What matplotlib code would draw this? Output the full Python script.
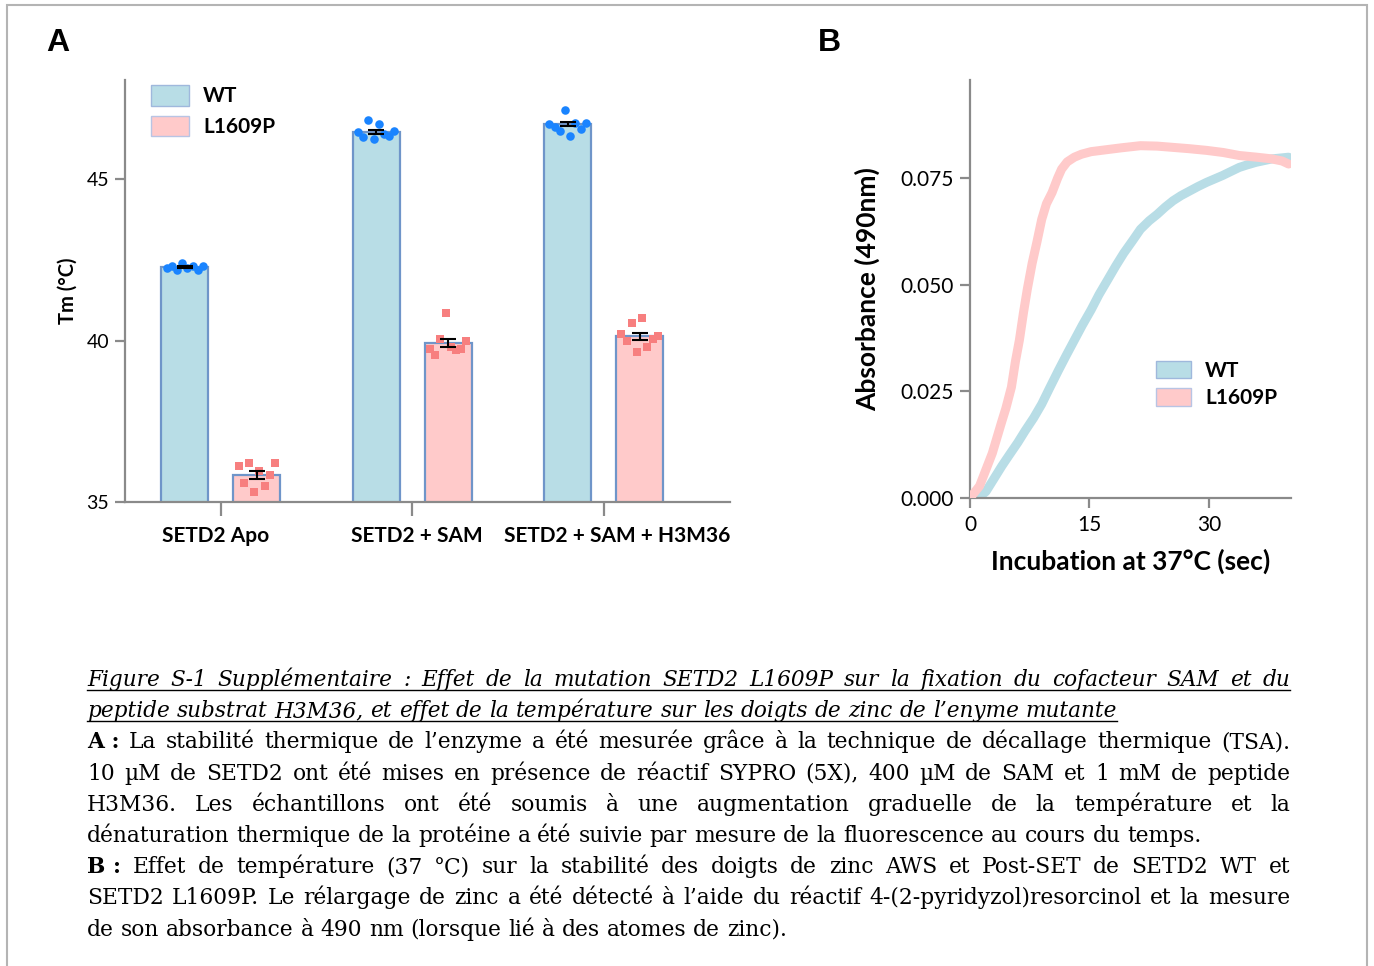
import numpy as np
import matplotlib
matplotlib.use("Agg")
import matplotlib.pyplot as plt
from matplotlib.patches import Patch, Rectangle
from matplotlib.lines import Line2D
from matplotlib.transforms import ScaledTranslation, blended_transform_factory

# ---------------- panel A : thermal shift (Tm) ----------------
groups = ["SETD2 Apo", "SETD2 + SAM", "SETD2 + SAM + H3M36"]
wt_mean = [42.27, 46.47, 46.70]
wt_sem = [0.03, 0.06, 0.07]
mut_mean = [35.83, 39.93, 40.13]
mut_sem = [0.12, 0.13, 0.11]
wt_points = [
    [42.25, 42.30, 42.20, 42.40, 42.25, 42.30, 42.20, 42.30],
    [46.45, 46.30, 46.82, 46.25, 46.72, 46.40, 46.35, 46.50],
    [46.70, 46.60, 46.50, 47.13, 46.35, 46.75, 46.55, 46.75],
]
mut_points = [
    [36.10, 35.60, 36.20, 35.30, 35.95, 35.50, 35.85, 36.20],
    [39.75, 39.55, 40.05, 40.85, 39.80, 39.70, 39.75, 40.00],
    [40.20, 40.00, 40.55, 39.65, 40.70, 39.80, 40.05, 40.15],
]

# ---------------- panel B : zinc release ----------------
mut_t = [0, 1.2, 2.8, 4.0, 4.5, 5.2, 5.7, 6.2, 6.7, 7.2, 7.8, 8.4, 9.0, 9.6,
         10.3, 11.0, 11.5, 12.2, 13.1, 14.0, 15.2, 17.3, 19.0, 21.4, 23.5,
         25.5, 27.5, 29.7, 31.8, 33.8, 36.0, 37.9, 39.2, 40.0]
mut_abs = [0.0, 0.0028, 0.0105, 0.018, 0.021, 0.026, 0.0320, 0.037, 0.0433,
           0.049, 0.055, 0.060, 0.0653, 0.069, 0.0716, 0.0750, 0.0771, 0.0788,
           0.0799, 0.0806, 0.0812, 0.0817, 0.0821, 0.0826, 0.0825, 0.0822,
           0.0819, 0.0815, 0.0810, 0.0803, 0.0799, 0.0795, 0.0790, 0.0783]
wt_t = [1.0, 2.0, 2.8, 4.0, 4.9, 6.0, 6.9, 8.0, 9.0, 10.0, 11.1, 12.1, 13.1,
        14.1, 15.2, 16.2, 17.3, 18.3, 19.3, 20.4, 21.4, 22.5, 23.5, 24.5,
        25.5, 26.5, 27.6, 28.6, 29.7, 30.7, 31.7, 32.8, 33.8, 34.8, 35.9,
        37.9, 40.0]
wt_abs = [0.0, 0.0015, 0.0039, 0.0075, 0.0100, 0.0130, 0.0157, 0.0188, 0.0220,
          0.0258, 0.0299, 0.0335, 0.0370, 0.0405, 0.0441, 0.0477, 0.0512,
          0.0544, 0.0574, 0.0603, 0.0630, 0.0650, 0.0665, 0.0682, 0.0697,
          0.0709, 0.0720, 0.0730, 0.0740, 0.0748, 0.0756, 0.0766, 0.0775,
          0.0781, 0.0787, 0.0795, 0.0799]

# ---------------- caption ----------------
caption = [
    ("Figure S-1 Supplémentaire : Effet de la mutation SETD2 L1609P sur la fixation du cofacteur SAM et du", "it", True),
    ("peptide substrat H3M36, et effet de la température sur les doigts de zinc de l’enyme mutante", "it", False),
    ("A : La stabilité thermique de l’enzyme a été mesurée grâce à la technique de décallage thermique (TSA).", "rm", True),
    ("10 µM de SETD2 ont été mises en présence de réactif SYPRO (5X), 400 µM de SAM et 1 mM de peptide", "rm", True),
    ("H3M36. Les échantillons ont été soumis à une augmentation graduelle de la température et la", "rm", True),
    ("dénaturation thermique de la protéine a été suivie par mesure de la fluorescence au cours du temps.", "rm", False),
    ("B : Effet de température (37 °C) sur la stabilité des doigts de zinc AWS et Post-SET de SETD2 WT et", "rm", True),
    ("SETD2 L1609P. Le rélargage de zinc a été détecté à l’aide du réactif 4-(2-pyridyzol)resorcinol et la mesure", "rm", True),
    ("de son absorbance à 490 nm (lorsque lié à des atomes de zinc).", "rm", False),
]

WT_FILL = "#b8dde6"
MUT_FILL = "#ffcaca"
EDGE = "#6f95c9"
DOT = "#1a84ff"
SQ = "#f77f7f"
AXC = "#8a8a8a"

plt.rcParams["font.family"] = ["Lato", "DejaVu Sans"]

W, H = 1374, 966
fig = plt.figure(figsize=(W / 100, H / 100), dpi=100)


def fx(x):
    return x / W


def fy(y):
    return 1 - y / H


# outer frame
fig.add_artist(Rectangle((fx(7), fy(975)), fx(1367) - fx(7), fy(5) - fy(975),
                         transform=fig.transFigure, fill=False,
                         edgecolor="#b4b4b4", lw=1.5))

# ---------- panel A ----------
axA = fig.add_axes([fx(125), fy(502), fx(730) - fx(125), fy(80) - fy(502)])
x = np.arange(len(groups))
off, bw = 0.188, 0.245
axA.bar(x - off, wt_mean, bw, color=WT_FILL, edgecolor=EDGE, lw=1.6, zorder=2)
axA.bar(x + off, mut_mean, bw, color=MUT_FILL, edgecolor=EDGE, lw=1.6, zorder=2)
jit = np.linspace(-0.095, 0.095, 8)
for i in range(len(groups)):
    axA.scatter(x[i] - off + jit, wt_points[i], s=38, marker="o", color=DOT,
                lw=0, zorder=3)
    axA.scatter(x[i] + off + jit, mut_points[i], s=38, marker="s", color=SQ,
                lw=0, zorder=3)
axA.errorbar(x - off, wt_mean, yerr=wt_sem, fmt="none", ecolor="black",
             elinewidth=1.5, capsize=6, capthick=1.5, zorder=4)
axA.errorbar(x + off, mut_mean, yerr=mut_sem, fmt="none", ecolor="black",
             elinewidth=1.5, capsize=6, capthick=1.5, zorder=4)
axA.set_ylim(35, 48.07)
axA.set_xlim(-0.5, 2.66)
axA.set_yticks([35, 40, 45])
axA.set_xticks(x)
axA.set_xticklabels([])
# category labels sit slightly off their ticks in the original
nudge = [-5, 5, 14]
base = blended_transform_factory(axA.transData, axA.transAxes)
for i, g in enumerate(groups):
    axA.text(x[i], 0, g, fontsize=15, fontweight="bold", ha="center", va="center",
             transform=base + ScaledTranslation(nudge[i] / 100, -0.34, fig.dpi_scale_trans))
axA.tick_params(axis="y", length=7.5, width=1.6, color=AXC, labelsize=14, pad=4)
axA.tick_params(axis="x", length=10, width=1.6, color=AXC)
for s in ["top", "right"]:
    axA.spines[s].set_visible(False)
for s in ["left", "bottom"]:
    axA.spines[s].set_color(AXC)
    axA.spines[s].set_linewidth(1.6)
axA.set_ylabel("Tm (°C)", fontsize=14.5, fontweight="bold", labelpad=6)
axA.legend(handles=[Patch(facecolor=WT_FILL, edgecolor="#9fb8dc", label="WT"),
                    Patch(facecolor=MUT_FILL, edgecolor="#b8c4e4", label="L1609P")],
           loc="upper left", bbox_to_anchor=(fx(151), fy(85)),
           bbox_transform=fig.transFigure, frameon=False, borderpad=0,
           borderaxespad=0, handlelength=1.8, handleheight=1.15,
           handletextpad=0.7, labelspacing=0.45,
           prop={"size": 15, "weight": "bold"})

# ---------- panel B ----------
axB = fig.add_axes([fx(970), fy(498), fx(1291) - fx(970), fy(80) - fy(498)])
axB.plot(wt_t, wt_abs, color=WT_FILL, lw=6.5, solid_capstyle="round", zorder=2)
axB.plot(mut_t, mut_abs, color=MUT_FILL, lw=6.5, solid_capstyle="round", zorder=3)
axB.set_xlim(0, 40.3)
axB.set_ylim(0, 0.098)
axB.set_xticks([0, 15, 30])
axB.set_yticks([0, 0.025, 0.05, 0.075])
axB.set_yticklabels(["0.000", "0.025", "0.050", "0.075"])
axB.tick_params(length=7, width=1.6, color=AXC, labelsize=15, pad=5)
for s in ["top", "right"]:
    axB.spines[s].set_visible(False)
for s in ["left", "bottom"]:
    axB.spines[s].set_color(AXC)
    axB.spines[s].set_linewidth(1.6)
axB.set_xlabel("Incubation at 37°C (sec)", fontsize=19, fontweight="bold", labelpad=10)
axB.set_ylabel("Absorbance (490nm)", fontsize=19, fontweight="bold", labelpad=14)
axB.legend(handles=[Patch(facecolor=WT_FILL, edgecolor="#9fb8dc", label="WT"),
                    Patch(facecolor=MUT_FILL, edgecolor="#b8c4e4", label="L1609P")],
           loc="upper left", bbox_to_anchor=(fx(1156), fy(361)),
           bbox_transform=fig.transFigure, frameon=False, borderpad=0,
           borderaxespad=0, handlelength=1.7, handleheight=0.9,
           handletextpad=0.65, labelspacing=0.35,
           prop={"size": 15, "weight": "bold"})

# panel letters
fig.text(fx(58), fy(43), "A", fontsize=23, fontweight="bold",
         family="Liberation Sans", ha="center", va="center")
fig.text(fx(829), fy(43), "B", fontsize=23, fontweight="bold",
         family="Liberation Sans", ha="center", va="center")

# ---------- caption, justified by hand ----------
renderer = fig.canvas.get_renderer()


def width(s, **kw):
    t = fig.text(0, 0, s, **kw)
    w = t.get_window_extent(renderer).width
    t.remove()
    return w


X0, X1 = 87, 1290
serif = "DejaVu Serif"
# size the body text so the free-ending line fits as in the original
size_rm = 10 * 1135 / width(caption[5][0], family=serif, size=10)
size_rm = min(size_rm, 10 * 1185 / width(caption[7][0], family=serif, size=10))
size_it = 10 * 1030 / width(caption[1][0], family=serif, style="italic", size=10)
size_it = min(size_it, 10 * 1185 / width(caption[0][0], family=serif, style="italic", size=10))

baseline = 686
for text, kind, justify in caption:
    words = text.split(" ")
    toks = []
    if kind == "rm" and words[1] == ":":
        toks.append((words[0] + " :", dict(family=serif, size=size_rm, weight="bold")))
        words = words[2:]
    kw = dict(family=serif, size=size_rm) if kind == "rm" else \
        dict(family=serif, size=size_it, style="italic")
    toks += [(w, kw) for w in words]
    ws = [width(t, **k) for t, k in toks]
    if justify:
        gap = (X1 - X0 - sum(ws)) / (len(toks) - 1)
    else:
        gap = width("a a", **kw) - width("aa", **kw)
    xp = X0
    for (t, k), w in zip(toks, ws):
        fig.text(fx(xp), fy(baseline), t, ha="left", va="baseline", **k)
        xp += w + gap
    if kind == "it":
        fig.add_artist(Line2D([fx(X0), fx(xp - gap)], [fy(baseline + 4)] * 2,
                              color="black", lw=1.0, transform=fig.transFigure))
    baseline += 31.2

fig.savefig("out.png", dpi=100)
